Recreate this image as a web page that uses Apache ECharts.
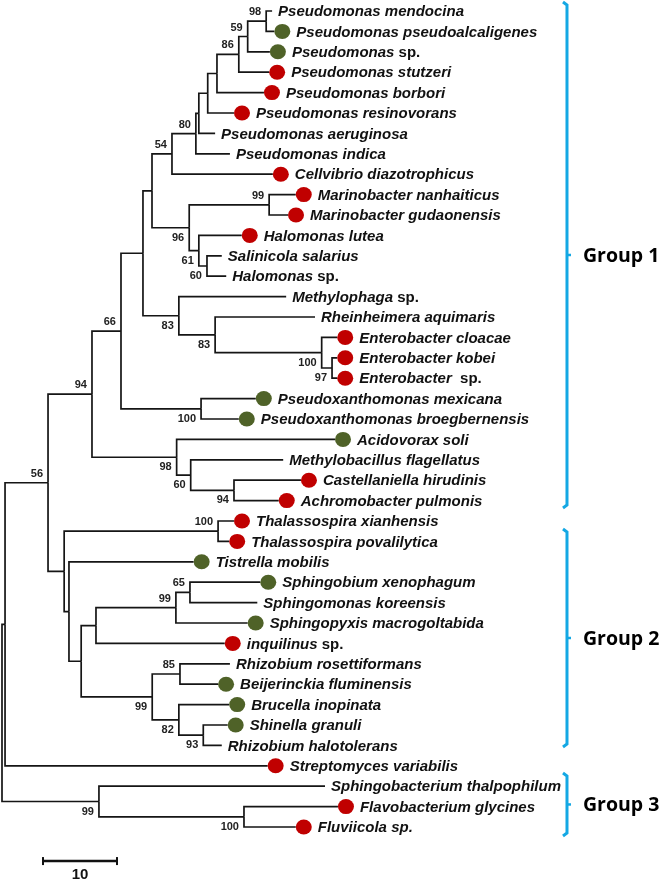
<!DOCTYPE html>
<html><head><meta charset="utf-8">
<script src="https://cdn.jsdelivr.net/npm/echarts@6/dist/echarts.min.js"></script>
<style>html,body{margin:0;padding:0;background:#fff}#c{width:659px;height:880px}</style>
</head><body><div id="c"></div>
<script>
// ---- leaves (top to bottom) ----
const leafNames = [
 'Pseudomonas mendocina','Pseudomonas pseudoalcaligenes','Pseudomonas sp.','Pseudomonas stutzeri',
 'Pseudomonas borbori','Pseudomonas resinovorans','Pseudomonas aeruginosa','Pseudomonas indica',
 'Cellvibrio diazotrophicus','Marinobacter nanhaiticus','Marinobacter gudaonensis','Halomonas lutea',
 'Salinicola salarius','Halomonas sp.','Methylophaga sp.','Rheinheimera aquimaris',
 'Enterobacter cloacae','Enterobacter kobei','Enterobacter  sp.','Pseudoxanthomonas mexicana',
 'Pseudoxanthomonas broegbernensis','Acidovorax soli','Methylobacillus flagellatus','Castellaniella hirudinis',
 'Achromobacter pulmonis','Thalassospira xianhensis','Thalassospira povalilytica','Tistrella mobilis',
 'Sphingobium xenophagum','Sphingomonas koreensis','Sphingopyxis macrogoltabida','inquilinus sp.',
 'Rhizobium rosettiformans','Beijerinckia fluminensis','Brucella inopinata','Shinella granuli',
 'Rhizobium halotolerans','Streptomyces variabilis','Sphingobacterium thalpophilum','Flavobacterium glycines',
 'Fluviicola sp.'
];
// marker: r = red dot, g = green dot, '' = none
const leafMarker = ['','g','g','r','r','r','','','r','r','r','r','','','','','r','r','r','g','g','g','','r','r',
 'r','r','g','g','','g','r','','g','g','g','','r','','r','r'];
// tip distance from root (scale units)
const leafTip = [36.5,36.8,36.2,36.1,35.4,31.35,28.8,30.8,36.6,39.7,38.65,32.4,29.7,30.3,38.4,42.3,45.3,45.3,45.3,
 34.3,32.0,45.0,38.0,40.4,37.4,31.35,30.7,25.9,34.9,34.5,33.2,30.1,30.8,29.2,30.7,30.5,29.7,35.9,43.65,45.4,39.7];

// ---- internal nodes ----
const nodeIds      = ['root','n5','n48','n92','n121','n143','n152','n171','n197','n199','n208','n217','n239','n248','n266',
 'n189','n269','n199h','n207','n179','n215','n321','n332','n201','n177','n191','n234',
 'n64','n218','n69','n81','n96','n176','n190','n152b','n180','n179b','n203','g3','n244'];
const nodeChildren = [['n5','g3'],['n48',37],['n92','n64'],['n121','n177'],['n143','n201'],['n152','n179'],['n171','n189'],
 ['n197',8],['n199',7],['n208',6],['n217',5],['n239',4],['n248',3],['n266',2],[0,1],
 ['n269','n199h'],[9,10],[11,'n207'],[12,13],[14,'n215'],[15,'n321'],[16,'n332'],[17,18],[19,20],[21,'n191'],[22,'n234'],[23,24],
 ['n218','n69'],[25,26],[27,'n81'],['n96','n152b'],['n176',31],['n190',30],[28,29],['n180','n179b'],[32,33],[34,'n203'],[35,36],
 [38,'n244'],[39,40]];
const nodeDepth    = [0,0.41,6.22,12.16,16.08,19.05,20.27,22.97,26.2,26.6,27.8,29.05,32.0,33.2,35.7,
 25.3,36.1,26.6,27.7,23.9,28.8,43.2,44.6,26.9,23.6,25.5,31.35,
 8.4,29.2,9.05,10.7,12.7,23.5,25.4,20.3,24.05,23.9,27.2,13.1,32.7];
const nodeSupport  = [null,null,56,94,66,null,null,54,80,null,null,null,86,59,98,
 96,99,61,60,83,83,100,97,100,98,60,94,
 null,100,null,null,null,99,65,99,85,82,93,99,100];
// support label placement: a = above branch, b = below
const nodeSupportPos = ['','','a','a','a','','','a','a','','','','a','a','a',
 'b','a','b','b','b','b','b','b','b','b','b','b',
 '','a','','','','a','a','b','a','b','b','b','b'];

// ---- groups ----
const groupNames = ['Group 1','Group 2','Group 3'];
const groupStart = [-0.44, 25.39, 37.35];
const groupEnd   = [24.36, 36.08, 40.44];
const scaleBarValue = 10;
const scaleBarLabel = '10';

// ---- build ----
const nodeIndex = {}; nodeIds.forEach((id,i)=>nodeIndex[id]=i);
function depthOf(c){ return typeof c === 'number' ? leafTip[c] : nodeDepth[nodeIndex[c]]; }
const yCache = {};
function yOf(c){
  if (typeof c === 'number') return c;
  if (yCache[c] !== undefined) return yCache[c];
  const ch = nodeChildren[nodeIndex[c]];
  const ys = ch.map(yOf);
  return yCache[c] = (Math.min(...ys) + Math.max(...ys)) / 2;
}
const branchData = [];
nodeIds.forEach((id,i)=>{
  const py = yOf(id), px = nodeDepth[i];
  nodeChildren[i].forEach(c=>{ branchData.push([px, py, depthOf(c), yOf(c)]); });
});
const supportData = [];
nodeIds.forEach((id,i)=>{ if (nodeSupport[i] != null) supportData.push([nodeDepth[i], yOf(id), nodeSupport[i], nodeSupportPos[i] === 'a' ? -1 : 1]); });
const dotData = [];
leafNames.forEach((n,i)=>{ if (leafMarker[i]) dotData.push({value:[leafTip[i], i], itemStyle:{color: leafMarker[i]==='r' ? '#C00000' : '#4F6228', opacity:1}}); });
const labelData = leafNames.map((n,i)=>[leafTip[i], i, i]);
const groupData = groupNames.map((g,i)=>[76.35, groupStart[i], groupEnd[i], i]);

const FONT = '"Liberation Sans", Arial, sans-serif';
const chart = echarts.init(document.getElementById('c'), null, {renderer:'canvas'});
chart.setOption({
  animation:false,
  backgroundColor:'#ffffff',
  grid:{left:2, width:592, top:0.8, height:867},
  xAxis:{type:'value', min:0, max:80, show:false},
  yAxis:{type:'value', min:-0.5, max:42, inverse:true, show:false},
  series:[
    { type:'custom', data:branchData, z:1, silent:true,
      renderItem:(p,api)=>{
        const a = api.coord([api.value(0), api.value(1)]);
        const b = api.coord([api.value(0), api.value(3)]);
        const c = api.coord([api.value(2), api.value(3)]);
        return {type:'polyline', shape:{points:[a,b,c]}, style:{stroke:'#151515', lineWidth:1.7, fill:null, lineJoin:'miter'}};
      }},
    { type:'scatter', data:dotData, z:3, symbol:'circle', symbolSize:[16,15], symbolOffset:[8,0], silent:true,
      itemStyle:{opacity:1} },
    { type:'custom', data:labelData, z:4, silent:true,
      renderItem:(p,api)=>{
        const i = api.value(2);
        const pt = api.coord([api.value(0), api.value(1)]);
        const name = leafNames[i];
        const off = leafMarker[i] ? 22 : 6;
        let text = '{i|' + name + '}';
        const m = name.match(/^(.*?)(\s+)sp\.$/);
        if (m && i !== 40) text = '{i|' + m[1] + m[2] + '}{n|sp.}';
        const base = {fontSize:15, fontWeight:'bold', fontFamily:FONT, fill:'#111'};
        return {type:'text', x:pt[0]+off, y:pt[1]+1, style:{text:text, align:'left', verticalAlign:'middle',
          fontSize:15, fontWeight:'bold', fontFamily:FONT, fill:'#111',
          rich:{i:Object.assign({fontStyle:'italic'}, base), n:Object.assign({fontStyle:'normal'}, base)}}};
      }},
    { type:'custom', data:supportData, z:4, silent:true,
      renderItem:(p,api)=>{
        const pt = api.coord([api.value(0), api.value(1)]);
        const s = api.value(3);
        return {type:'text', x:pt[0]-5, y:pt[1] + (s < 0 ? -9 : 10), style:{text:String(api.value(2)), align:'right', verticalAlign:'middle',
          fontSize:11, fontWeight:'bold', fontFamily:FONT, fill:'#222'}};
      }},
    { type:'custom', data:groupData, z:4, silent:true,
      renderItem:(p,api)=>{
        const t = api.coord([api.value(0), api.value(1)]);
        const b = api.coord([api.value(0), api.value(2)]);
        const x = t[0], midY = (t[1]+b[1])/2;
        const col = '#14A8E4';
        return {type:'group', children:[
          {type:'polyline', shape:{points:[[x-4,t[1]],[x,t[1]+3],[x,b[1]-3],[x-4,b[1]]]}, style:{stroke:col, lineWidth:3, fill:null}},
          {type:'line', shape:{x1:x, y1:midY, x2:x+4, y2:midY}, style:{stroke:col, lineWidth:2.5}},
          {type:'text', x:x+16, y:midY+1, style:{text:groupNames[api.value(3)], align:'left', verticalAlign:'middle',
            fontSize:19.5, fontWeight:'bold', fontFamily:'"Open Sans", sans-serif', fill:'#000'}}
        ]};
      }},
    { type:'custom', data:[[5.54, 41.67, scaleBarValue]], z:4, silent:true,
      renderItem:(p,api)=>{
        const a = api.coord([api.value(0), api.value(1)]);
        const b = api.coord([api.value(0)+api.value(2), api.value(1)]);
        return {type:'group', children:[
          {type:'line', shape:{x1:a[0], y1:a[1], x2:b[0], y2:b[1]}, style:{stroke:'#111', lineWidth:2.5}},
          {type:'line', shape:{x1:a[0], y1:a[1]-4, x2:a[0], y2:a[1]+4}, style:{stroke:'#111', lineWidth:2}},
          {type:'line', shape:{x1:b[0], y1:b[1]-4, x2:b[0], y2:b[1]+4}, style:{stroke:'#111', lineWidth:2}},
          {type:'text', x:(a[0]+b[0])/2, y:a[1]+14, style:{text:scaleBarLabel, align:'center', verticalAlign:'middle',
            fontSize:15, fontWeight:'bold', fontFamily:FONT, fill:'#111'}}
        ]};
      }}
  ]
});
</script></body></html>
